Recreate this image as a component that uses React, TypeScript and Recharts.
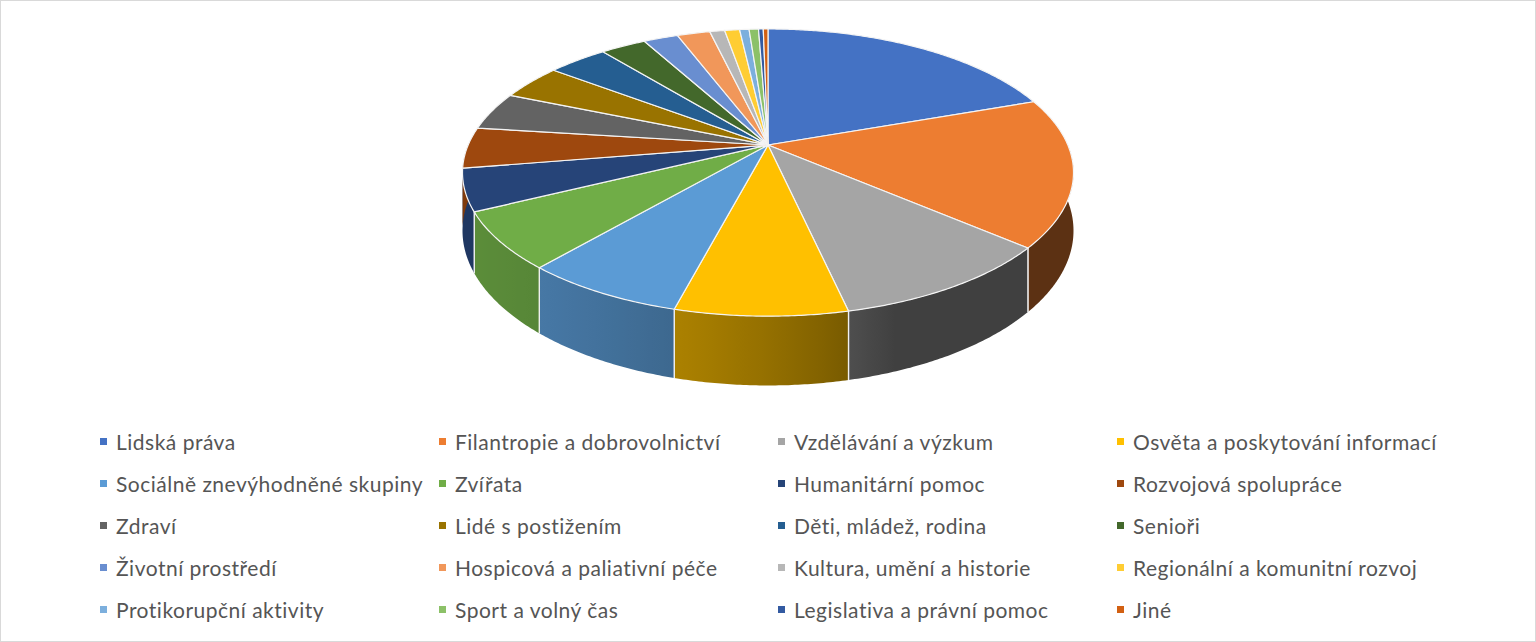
import React from 'react';
import { PieChart, Pie, Legend } from 'recharts';

const categories = [
  'Lidská práva',
  'Filantropie a dobrovolnictví',
  'Vzdělávání a výzkum',
  'Osvěta a poskytování informací',
  'Sociálně znevýhodněné skupiny',
  'Zvířata',
  'Humanitární pomoc',
  'Rozvojová spolupráce',
  'Zdraví',
  'Lidé s postižením',
  'Děti, mládež, rodina',
  'Senioři',
  'Životní prostředí',
  'Hospicová a paliativní péče',
  'Kultura, umění a historie',
  'Regionální a komunitní rozvoj',
  'Protikorupční aktivity',
  'Sport a volný čas',
  'Legislativa a právní pomoc',
  'Jiné',
];

const values = [19.6, 16.7, 10.2, 7.6, 7.2, 6.4, 4.7, 4.6, 4.3, 4.0, 3.8, 2.9, 2.2, 2.1, 0.95, 0.95, 0.6, 0.6, 0.3, 0.3];

const colors = [
  '#4472C4', '#ED7D31', '#A5A5A5', '#FFC000',
  '#5B9BD5', '#70AD47', '#264478', '#9E480E',
  '#636363', '#997300', '#255E91', '#43682B',
  '#698ED0', '#F1975A', '#B7B7B7', '#FFCD33',
  '#7CAFDD', '#8CC168', '#335AA1', '#D26012',
];

const data = categories.map((name, i) => ({ name, value: values[i], color: colors[i] }));

// 3D projection settings (style)
const CX = 768;
const CY = 145;
const R = 305.5;
const K = 0.192;
const SX = Math.sqrt(1 - K * K);
const TY = 0.4527;
const DEPTH = 56;
const SIL = (Math.asin(K) * 180) / Math.PI; // silhouette offset in degrees

function proj(cx: number, cy: number, r: number, deg: number, drop = 0): [number, number] {
  const a = (deg * Math.PI) / 180;
  const c = Math.cos(a);
  const s = Math.sin(a);
  const den = 1 + K * s;
  return [cx + (r * SX * c) / den, cy - (r * TY * s) / den + drop / den];
}

function shade(hex: string, deg: number): string {
  const a = (deg * Math.PI) / 180;
  const phi = (-160 * Math.PI) / 180;
  const L = 0.126 + 0.51 * Math.max(0, Math.cos(a - phi));
  const f = Math.pow(L, 1 / 2.2);
  const n = parseInt(hex.slice(1), 16);
  const r = Math.round(((n >> 16) & 255) * f);
  const g = Math.round(((n >> 8) & 255) * f);
  const b = Math.round((n & 255) * f);
  return `rgb(${r},${g},${b})`;
}

const renderWall = (p: any) => {
  const cx = p.cx ?? CX;
  const cy = p.cy ?? CY;
  const r = p.outerRadius ?? R;
  const idx = p.index ?? 0;
  const color = colors[idx];
  const sa = p.startAngle;
  const ea = p.endAngle;
  const hi = Math.min(Math.max(sa, ea), 0);
  const lo = Math.max(Math.min(sa, ea), -180);
  if (hi <= lo) return <g key={`w${idx}`} />;
  const n = Math.max(2, Math.ceil((hi - lo) / 0.5));
  let top = '';
  const bottom: string[] = [];
  for (let j = 0; j <= n; j++) {
    const a = hi - ((hi - lo) * j) / n;
    const t = proj(cx, cy, r, a);
    const b = proj(cx, cy, r, a, DEPTH);
    top += `${j === 0 ? 'M' : 'L'}${t[0]},${t[1]}`;
    bottom.unshift(`L${b[0]},${b[1]}`);
  }
  const d = top + bottom.join('') + 'Z';

  // gradient across visible part
  const vHi = Math.min(hi, -SIL);
  const vLo = Math.max(lo, -180 + SIL);
  const gid = `wallgrad-${idx}`;
  let fill: string = shade(color, (hi + lo) / 2);
  let defs: React.ReactNode = null;
  if (vHi > vLo + 0.5) {
    const x1 = proj(cx, cy, r, vHi)[0];
    const x2 = proj(cx, cy, r, vLo)[0];
    const m = Math.max(2, Math.ceil((vHi - vLo) / 2));
    const stops: React.ReactNode[] = [];
    for (let j = 0; j <= m; j++) {
      const a = vHi - ((vHi - vLo) * j) / m;
      const x = proj(cx, cy, r, a)[0];
      const off = Math.min(1, Math.max(0, (x - x1) / (x2 - x1)));
      stops.push(<stop key={j} offset={off} stopColor={shade(color, a)} />);
    }
    defs = (
      <defs>
        <linearGradient id={gid} gradientUnits="userSpaceOnUse" x1={x1} y1={0} x2={x2} y2={0}>
          {stops}
        </linearGradient>
      </defs>
    );
    fill = `url(#${gid})`;
  }

  const lines: React.ReactNode[] = [];
  [sa, ea].forEach((ang, k) => {
    if (ang <= -12 && ang >= -168) {
      const t = proj(cx, cy, r, ang);
      const b = proj(cx, cy, r, ang, DEPTH);
      lines.push(
        <line key={`l${k}`} x1={t[0]} y1={t[1]} x2={b[0]} y2={b[1]} stroke="#f2f2f2" strokeWidth={1.3} />
      );
    }
  });
  return (
    <g key={`w${idx}`}>
      {defs}
      <path d={d} fill={fill} stroke="none" />
      {lines}
    </g>
  );
};

const renderTop = (p: any) => {
  const cx = p.cx ?? CX;
  const cy = p.cy ?? CY;
  const r = p.outerRadius ?? R;
  const idx = p.index ?? 0;
  const color = colors[idx];
  const sa = p.startAngle;
  const ea = p.endAngle;
  const n = Math.max(2, Math.ceil(Math.abs(sa - ea) / 0.5));
  let d = `M${cx},${cy}`;
  for (let j = 0; j <= n; j++) {
    const a = sa + ((ea - sa) * j) / n;
    const pt = proj(cx, cy, r, a);
    d += `L${pt[0]},${pt[1]}`;
  }
  d += 'Z';
  return (
    <path key={`t${idx}`} d={d} fill={color} stroke="#f4f4f4" strokeWidth={1.2} strokeLinejoin="round" />
  );
};

const COL_X = [104, 443, 782, 1121];
const ROW_Y0 = 21;
const ROW_STEP = 42;

const renderLegend = (props: any) => {
  const payload: any[] = props && props.payload ? props.payload : [];
  const items =
    payload.length === categories.length
      ? payload.map((e: any, i: number) => ({ name: e.value ?? categories[i], color: colors[i] }))
      : categories.map((name, i) => ({ name, color: colors[i] }));
  return (
    <div
      style={{
        position: 'relative',
        width: 1536,
        height: 210,
        fontFamily: 'Lato, "Open Sans", sans-serif',
        fontSize: 21,
        letterSpacing: 0.5,
        color: '#555555',
      }}
    >
      {items.map((it, i) => {
        const col = i % 4;
        const row = Math.floor(i / 4);
        return (
          <div
            key={i}
            style={{
              position: 'absolute',
              left: COL_X[col] - 4,
              top: ROW_Y0 + row * ROW_STEP - 13,
              height: 26,
              display: 'flex',
              alignItems: 'center',
              whiteSpace: 'nowrap',
            }}
          >
            <span style={{ display: 'inline-block', width: 7, height: 7, background: it.color, marginRight: 9 }} />
            <span>{it.name}</span>
          </div>
        );
      })}
    </div>
  );
};

export default function App() {
  return (
    <div style={{ position: 'absolute', left: 0, top: 0, width: 1536, height: 642, background: '#ffffff' }}>
      <PieChart width={1536} height={642} margin={{ top: 0, right: 0, bottom: 0, left: 0 }}>
        <Pie
          data={data}
          dataKey="value"
          nameKey="name"
          cx={CX}
          cy={CY}
          outerRadius={R}
          startAngle={90}
          endAngle={-270}
          fill="none"
          stroke="none"
          label={renderWall}
          labelLine={false}
          legendType="none"
          isAnimationActive={false}
        />
        <Pie
          data={data}
          dataKey="value"
          nameKey="name"
          cx={CX}
          cy={CY}
          outerRadius={R}
          startAngle={90}
          endAngle={-270}
          fill="none"
          stroke="none"
          label={renderTop}
          labelLine={false}
          isAnimationActive={false}
        />
        <Legend
          content={renderLegend}
          wrapperStyle={{ left: 0, top: 420, width: 1536, height: 210 }}
        />
      </PieChart>
      <div
        style={{
          position: 'absolute',
          left: 0,
          top: 0,
          width: 1536,
          height: 642,
          boxSizing: 'border-box',
          border: '1px solid #d9d9d9',
          pointerEvents: 'none',
        }}
      />
    </div>
  );
}
